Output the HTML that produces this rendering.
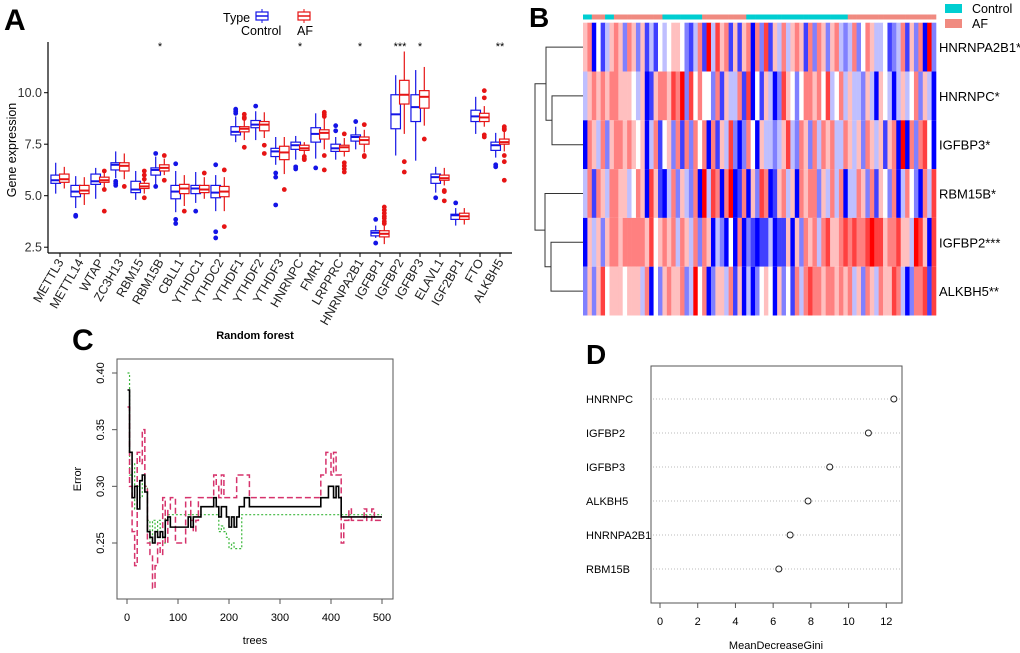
<!DOCTYPE html>
<html><head><meta charset="utf-8"><style>
body{margin:0;background:#fff;}
svg{display:block;font-family:"Liberation Sans",Arial,sans-serif;}
</style></head><body>
<svg id="fig" width="1020" height="653" viewBox="0 0 1020 653">
<rect width="1020" height="653" fill="#fff"/>
<text x="4" y="30" font-size="30" font-weight="bold">A</text>
<text x="529" y="27" font-size="28" font-weight="bold">B</text>
<text x="72" y="350" font-size="30" font-weight="bold">C</text>
<text x="586" y="364" font-size="28" font-weight="bold">D</text>
<g id="pa"></g>
<g id="pb"></g>
<g id="pc"></g>
<g id="pd"></g>
</svg>
<script>
// ---------- Panel A data ----------
const genes=["METTL3","METTL14","WTAP","ZC3H13","RBM15","RBM15B","CBLL1","YTHDC1","YTHDC2","YTHDF1","YTHDF2","YTHDF3","HNRNPC","FMR1","LRPPRC","HNRNPA2B1","IGFBP1","IGFBP2","IGFBP3","ELAVL1","IGF2BP1","FTO","ALKBH5"];
// [lo,q1,med,q3,hi]
const ctrlStats=[[5.1,5.6,5.75,6.0,6.6],[4.4,4.95,5.2,5.5,5.95],[4.85,5.55,5.7,6.05,6.35],[5.85,6.25,6.5,6.6,7.15],[4.8,5.15,5.3,5.7,6.2],[5.55,6.0,6.25,6.35,6.9],[4.2,4.85,5.2,5.5,6.2],[4.65,5.1,5.35,5.5,6.15],[4.25,4.9,5.15,5.5,6.0],[7.6,7.95,8.1,8.35,8.85],[7.7,8.3,8.45,8.65,9.1],[6.5,6.9,7.15,7.3,7.85],[6.75,7.25,7.45,7.6,7.9],[6.8,7.6,8.0,8.3,9.0],[6.75,7.15,7.3,7.5,7.85],[7.25,7.65,7.85,7.95,8.35],[2.95,3.05,3.2,3.3,3.55],[6.95,8.25,8.95,9.9,10.85],[6.7,8.6,9.3,9.9,11.1],[5.15,5.6,5.9,6.05,6.4],[3.55,3.85,4.05,4.1,4.4],[8.0,8.6,8.85,9.15,9.8],[6.85,7.2,7.45,7.6,8.05]];
const afStats=[[5.35,5.65,5.8,6.05,6.4],[4.55,5.1,5.25,5.5,5.9],[5.4,5.65,5.75,5.9,6.1],[5.8,6.2,6.45,6.6,7.05],[5.1,5.35,5.45,5.6,5.9],[6.0,6.2,6.35,6.5,6.8],[4.5,5.1,5.35,5.55,6.0],[4.85,5.15,5.3,5.5,5.9],[4.25,4.95,5.2,5.45,5.9],[7.7,8.1,8.25,8.35,8.7],[7.8,8.15,8.45,8.6,9.05],[6.05,6.75,7.1,7.4,7.85],[7.0,7.2,7.3,7.45,7.6],[7.25,7.75,8.05,8.2,8.75],[6.9,7.15,7.35,7.45,7.8],[7.1,7.5,7.7,7.85,8.2],[2.65,3.0,3.15,3.3,3.55],[8.0,9.45,9.9,10.6,12.0],[8.4,9.25,9.8,10.1,11.25],[5.5,5.75,5.85,6.0,6.35],[3.6,3.85,4.0,4.15,4.4],[8.35,8.6,8.8,9.0,9.35],[7.15,7.5,7.6,7.75,8.15]];
const ctrlOut=[[],[4.0,4.05],[],[5.7,5.6,5.5],[],[7.05,5.45],[6.55,3.85,3.65],[4.25],[6.5,3.25,2.95],[9.2,9.1,9.0],[9.35],[6.1,5.9,4.55],[6.4,6.3],[6.35],[8.4,8.15],[8.6],[3.85,2.7],[],[],[4.9],[4.65],[],[6.5,6.4]];
const afOut=[[],[],[6.2,5.3,4.25],[5.45],[6.2,6.0,5.8,4.9],[6.95,5.75],[4.25],[6.1],[6.25,3.5],[8.95,8.8,8.75,7.35],[7.45,7.05],[5.3],[6.9,6.8,6.75],[9.05,8.95,8.85,6.95,6.25],[8.0,6.6,6.45,6.3,6.15],[8.45,6.95,6.9],[4.45,4.3,4.15,4.0,3.9,3.75,3.65],[6.65,6.15],[7.75],[5.25,5.2,4.75],[],[10.1,9.75,7.95,7.85],[8.35,8.25,8.2,6.95,6.65,5.75]];
const sigLabels=["","","","","","*","","","","","","","*","","","*","","***","*","","","","**"];
const yTicksA=[2.5,5.0,7.5,10.0];

// ---------- Panel B data (0=blue .. 4=white .. 8=red) ----------
const hmGenes=["HNRNPA2B1*","HNRNPC*","IGFBP3*","RBM15B*","IGFBP2***","ALKBH5**"];
const hmRows=[
"5604135652 6525131434 5542136183 7561515606 2715363565 1626525632 3624653341 2361526082",
"3565656655 5435015665 7682746442 6153361704 1530275424 6656473463 5332530543 0353462530",
"0653625665 6545036145 2616264606 1537202640 5332357326 5263656336 5352653515 6080626740",
"3616536655 3465075103 6253260837 6068016052 7601563506 5662536360 3365261542 6036420637",
"0535256656 6666574565 6365362650 3204060210 1130115052 6563675567 6766787756 6755387507",
"2525745554 5553604256 5562384602 5536150302 4540524163 6766566565 6352653655 7630266717"];
const sampleGroup="CCAAACCAAAAAAAAAAACCCCCCCCCAAAAAAAAAACCCCCCCCCCCCCCCCCCCCCCCAAAAAAAAAAAAAAAAAAAA";

// ---------- Panel C data (trees 1,5,10,...,500) ----------
const oobErr=[.385,.33,.29,.30,.28,.305,.31,.295,.26,.255,
.25,.26,.255,.26,.255,.27,.273,.264,.264,.264,
.264,.264,.264,.264,.273,.264,.273,.273,.273,.282,
.282,.282,.282,.282,.29,.282,.273,.282,.282,.273,
.264,.273,.264,.273,.282,.282,.29,.29,.282,
.282,.282,.282,.282,.282,.282,.282,.282,.282,.282,.282,.282,.282,.282,.282,.282,.282,.282,.282,.282,.282,.282,.282,.282,.282,.282,.282,
.29,.29,.29,.30,.30,.29,.30,.29,
.273,.273,.273,.273,.273,.273,.273,.273,.273,.273,.273,.273,.273,.273,.273,.273,.273];
const errA=[.37,.30,.26,.23,.33,.32,.35,.30,.25,.24,
.21,.23,.25,.24,.29,.25,.28,.29,.29,.25,
.25,.25,.25,.29,.29,.27,.26,.27,.29,.29,
.29,.29,.29,.29,.31,.30,.29,.31,.29,.29,
.29,.29,.29,.31,.31,.31,.31,.31,.29,
.29,.29,.29,.29,.29,.29,.29,.29,.29,.29,.29,.29,.29,.29,.29,.29,.29,.29,.29,.29,.29,.29,.29,.29,.29,.29,.29,
.31,.31,.33,.33,.31,.33,.31,.31,
.25,.27,.27,.28,.27,.27,.27,.27,.27,.28,.27,.27,.28,.27,.27,.27,.27];
const errB=[.40,.31,.32,.28,.30,.29,.31,.30,.27,.25,
.27,.26,.27,.26,.25,.275,.275,.275,.275,.275,
.275,.275,.275,.275,.275,.275,.275,.275,.275,.275,
.275,.275,.275,.275,.275,.275,.26,.265,.26,.255,
.245,.25,.245,.245,.245,.275,.275,.275,.275,
.275,.275,.275,.275,.275,.275,.275,.275,.275,.275,.275,.275,.275,.275,.275,.275,.275,.275,.275,.275,.275,.275,.275,.275,.275,.275,.275,
.275,.275,.275,.275,.275,.275,.275,.275,
.275,.275,.275,.275,.275,.275,.275,.275,.275,.275,.275,.275,.275,.275,.275,.275,.275];
const xTicksC=[0,100,200,300,400,500];
const yTicksC=[0.25,0.30,0.35,0.40];

// ---------- Panel D data ----------
const giniGenes=["HNRNPC","IGFBP2","IGFBP3","ALKBH5","HNRNPA2B1","RBM15B"];
const giniVals=[12.4,11.05,9.0,7.85,6.9,6.3];
const xTicksD=[0,2,4,6,8,10,12];

const NS="http://www.w3.org/2000/svg";
function mk(parent,tag,attrs,txt){const e=document.createElementNS(NS,tag);for(const k in attrs)e.setAttribute(k,attrs[k]);if(txt!==undefined)e.textContent=txt;parent.appendChild(e);return e;}

// ===== Panel A =====
(function(){
const g=document.getElementById('pa');
const yA=v=>92.7+(10-v)*20.6;
const xA=k=>60+20*k;
let l=mk(g,'line',{x1:48,y1:42,x2:48,y2:253,stroke:'#000','stroke-width':1.2});


l=mk(g,'line',{x1:48,y1:253,x2:512,y2:253,stroke:'#000','stroke-width':1.2});


yTicksA.forEach(v=>{
  mk(g,'line',{x1:44,x2:48,y1:yA(v),y2:yA(v),stroke:'#000'});
  const t=mk(g,'text',{x:42,y:yA(v)+4.5,'text-anchor':'end','font-size':12.5,fill:'#333'},v.toFixed(1));
  
  
});
const yt=mk(g,'text',{transform:'translate(16,150) rotate(-90)','text-anchor':'middle','font-size':12.5},'Gene expression');


function box(c,s,col,outs,name){
  const bg=mk(g,'g',{});
  
  
  const w=9.5;
  mk(bg,'line',{x1:c,x2:c,y1:yA(s[0]),y2:yA(s[1]),stroke:col,'stroke-width':1.2});
  mk(bg,'line',{x1:c,x2:c,y1:yA(s[3]),y2:yA(s[4]),stroke:col,'stroke-width':1.2});
  mk(bg,'rect',{x:c-w/2,y:yA(s[3]),width:w,height:yA(s[1])-yA(s[3]),fill:'#fff',stroke:col,'stroke-width':1.2});
  mk(bg,'line',{x1:c-w/2,x2:c+w/2,y1:yA(s[2]),y2:yA(s[2]),stroke:col,'stroke-width':2});
  outs.forEach(o=>mk(bg,'circle',{cx:c,cy:yA(o),r:2.4,fill:col}));
}
genes.forEach((gname,k)=>{
  const c=xA(k);
  box(c-4.3,ctrlStats[k],'#1414e6',ctrlOut[k],'box-control-'+gname.toLowerCase());
  box(c+4.3,afStats[k],'#e61414',afOut[k],'box-af-'+gname.toLowerCase());
  mk(g,'line',{x1:c,x2:c,y1:253,y2:257,stroke:'#000'});
  const t=mk(g,'text',{transform:`translate(${c+4},${262}) rotate(-60)`,'text-anchor':'end','font-size':12.5,fill:'#222'},gname);
  
  
  if(sigLabels[k]){const s=mk(g,'text',{x:c,y:50,'text-anchor':'middle','font-size':11},sigLabels[k]);
    
    }
});
// legend
const lg=mk(g,'g',{});


mk(lg,'text',{x:223,y:22,'font-size':12.5},'Type');
[['#1414e6',262,'Control',241],['#e61414',304,'AF',297]].forEach(([col,x,lab,tx])=>{
  mk(lg,'line',{x1:x,x2:x,y1:9,y2:23,stroke:col});
  mk(lg,'rect',{x:x-6,y:12,width:12,height:8,fill:'#fff',stroke:col,'stroke-width':1.2});
  mk(lg,'line',{x1:x-6,x2:x+6,y1:16,y2:16,stroke:col,'stroke-width':1.5});
  const t=mk(lg,'text',{x:tx,y:35,'font-size':12.5},lab);
  
  
});
})();

// ===== Panel B =====
(function(){
const g=document.getElementById('pb');
const rows=hmRows.map(r=>r.replace(/ /g,''));
const nCol=Math.min(...rows.map(r=>r.length));
const x0=583,x1=936,y0=22.7,rh=48.8,cw=(x1-x0)/nCol;
function col(d){const v=(d-4)/4;
  if(v<0){const f=1+v;return `rgb(${Math.round(255*f)},${Math.round(255*f)},255)`;}
  const f=1-v;return `rgb(255,${Math.round(255*f)},${Math.round(255*f)})`;}
rows.forEach((r,i)=>{
  for(let j=0;j<nCol;j++){
    const c=mk(g,'rect',{x:x0+j*cw,y:y0+i*rh,width:cw+0.3,height:rh,fill:col(+r[j])});
    
    
  }
  const t=mk(g,'text',{x:939,y:y0+i*rh+rh/2+5,'font-size':13},hmGenes[i]);
  
  
});
for(let j=0;j<nCol;j++){
  const a=mk(g,'rect',{x:x0+j*cw,y:14.5,width:cw+0.3,height:5,fill:sampleGroup[j]==='C'?'#00ced1':'#f08a80'});
  
  
}
const rc=i=>y0+i*rh+rh/2;
const d=mk(g,'path',{fill:'none',stroke:'#333','stroke-width':1,
 d:`M583,${rc(1)}H552V${rc(2)}H583 M583,${rc(0)}H546V${(rc(1)+rc(2))/2}H552
    M583,${rc(4)}H551V${rc(5)}H583 M583,${rc(3)}H545V${(rc(4)+rc(5))/2}H551
    M546,${(rc(0)+(rc(1)+rc(2))/2)/2}H535V${(rc(3)+(rc(4)+rc(5))/2)/2}H545`});


const lg=mk(g,'g',{});


mk(lg,'rect',{x:945,y:4,width:17,height:9,fill:'#00ced1'});
mk(lg,'text',{x:972,y:13,'font-size':12.5},'Control');
mk(lg,'rect',{x:945,y:19,width:17,height:9,fill:'#f08a80'});
mk(lg,'text',{x:972,y:28,'font-size':12.5},'AF');
})();

// ===== Panel C =====
(function(){
const g=document.getElementById('pc');
const xC=t=>127+t*0.51;
const yC=e=>373+(0.40-e)*1133.3;
mk(g,'rect',{x:117,y:359,width:276,height:240,fill:'none',stroke:'#555','stroke-width':1});
const ti=mk(g,'text',{x:255,y:339,'text-anchor':'middle','font-size':11,'font-weight':'bold'},'Random forest');


xTicksC.forEach(v=>{mk(g,'line',{x1:xC(v),x2:xC(v),y1:599,y2:604,stroke:'#555'});
 const t=mk(g,'text',{x:xC(v),y:621,'text-anchor':'middle','font-size':11},v);
 
 });
yTicksC.forEach(v=>{mk(g,'line',{x1:112,x2:117,y1:yC(v),y2:yC(v),stroke:'#555'});
 const t=mk(g,'text',{transform:`translate(104,${yC(v)}) rotate(-90)`,'text-anchor':'middle','font-size':11},v.toFixed(2));
 
 });
let t=mk(g,'text',{x:255,y:644,'text-anchor':'middle','font-size':11},'trees');


t=mk(g,'text',{transform:'translate(81,479) rotate(-90)','text-anchor':'middle','font-size':11},'Error');


function step(arr,stroke,dash,w,name){
  let d='';
  arr.forEach((v,i)=>{const tr=i===0?1:i*5;
    d+= i===0?`M${xC(tr)},${yC(v)}`:`H${xC(tr)}V${yC(v)}`;});
  const p=mk(g,'path',{d,fill:'none',stroke,'stroke-width':w,'stroke-dasharray':dash});
  
  
}
step(errB,'#3cb83c','2,2',1.2,'class-error-line-green');
step(errA,'#d6336c','6,3',1.5,'class-error-line-red');
step(oobErr,'#000','',1.6,'oob-error-line');
})();

// ===== Panel D =====
(function(){
const g=document.getElementById('pd');
const xD=v=>660+v*18.86;
const yD=i=>399+i*34;
mk(g,'rect',{x:651,y:366,width:251,height:237,fill:'none',stroke:'#555','stroke-width':1});
giniGenes.forEach((n,i)=>{
  mk(g,'line',{x1:653,x2:900,y1:yD(i),y2:yD(i),stroke:'#bbb','stroke-dasharray':'1,2'});
  const t=mk(g,'text',{x:586,y:yD(i)+4,'font-size':11},n);
  
  
  const c=mk(g,'circle',{cx:xD(giniVals[i]),cy:yD(i),r:3,fill:'#fff',stroke:'#222','stroke-width':1});
  
  
});
xTicksD.forEach(v=>{mk(g,'line',{x1:xD(v),x2:xD(v),y1:603,y2:608,stroke:'#555'});
 const t=mk(g,'text',{x:xD(v),y:625,'text-anchor':'middle','font-size':11},v);
 
 });
const t=mk(g,'text',{x:776,y:649,'text-anchor':'middle','font-size':11},'MeanDecreaseGini');


})();
</script>
</body></html>
